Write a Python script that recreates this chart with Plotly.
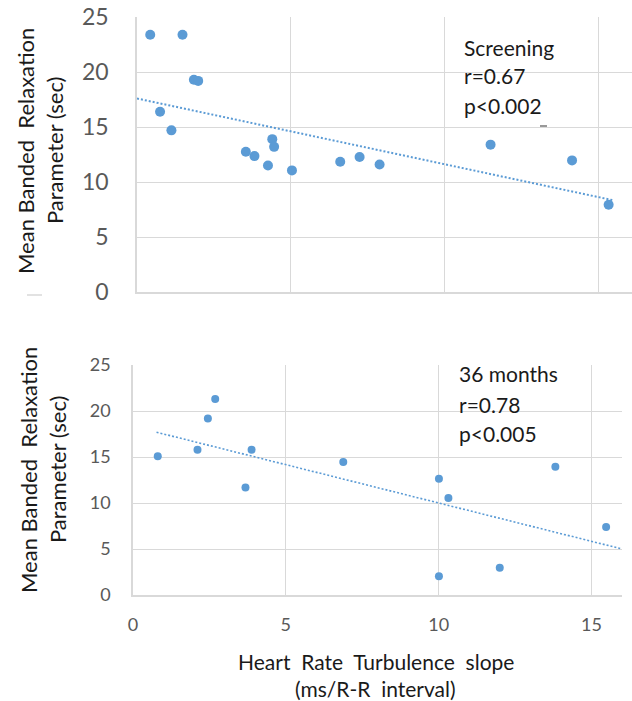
import plotly.graph_objects as go

# ---------------- data ----------------
screening_x = [0.43, 1.48, 1.85, 1.99, 0.75, 1.12, 3.54, 3.82, 4.40, 4.46, 4.26, 5.04,
               6.61, 7.24, 7.89, 11.5, 14.15, 15.34]
screening_y = [23.4, 23.4, 19.3, 19.2, 16.4, 14.7, 12.75, 12.36, 13.9, 13.2, 11.5, 11.06,
               11.85, 12.27, 11.6, 13.4, 11.97, 7.94]
screening_trend_x = [0.0, 15.46]
screening_trend_y = [17.6, 8.36]

m36_x = [0.81, 2.11, 2.45, 2.69, 3.88, 3.68, 6.88, 10.01, 10.32, 10.01, 12.0, 13.82, 15.48]
m36_y = [15.1, 15.8, 19.2, 21.3, 15.8, 11.7, 14.46, 12.64, 10.54, 2.03, 2.97, 13.95, 7.39]
m36_trend_x = [0.77, 15.97]
m36_trend_y = [17.7, 5.03]

y_ticks = [0, 5, 10, 15, 20, 25]
x_ticks = [0, 5, 10, 15]
top_label = ["Screening", "r=0.67", "p<0.002"]
bottom_label = ["36 months", "r=0.78", "p<0.005"]
y_title = ["Mean Banded\u00a0 Relaxation", "Parameter (sec)"]
x_title = ["Heart\u00a0 Rate\u00a0 Turbulence\u00a0 slope", "(ms/R-R\u00a0 interval)"]

# ---------------- figure ----------------
W, H = 632, 701
FONT = "Lato"
BLUE = "#5b9bd5"
GRID = "#d9d9d9"
TICK = "#595959"


def px(x):
    return x / W


def py(y):
    return 1 - y / H


fig = go.Figure()
fig.add_trace(go.Scatter(x=screening_x, y=screening_y, mode="markers",
                         marker=dict(color=BLUE, size=10), xaxis="x", yaxis="y",
                         showlegend=False))
fig.add_trace(go.Scatter(x=screening_trend_x, y=screening_trend_y, mode="lines",
                         line=dict(color=BLUE, width=2, dash="2px,2px"),
                         xaxis="x", yaxis="y", showlegend=False))
fig.add_trace(go.Scatter(x=m36_x, y=m36_y, mode="markers",
                         marker=dict(color=BLUE, size=8), xaxis="x2", yaxis="y2",
                         showlegend=False))
fig.add_trace(go.Scatter(x=m36_trend_x, y=m36_trend_y, mode="lines",
                         line=dict(color=BLUE, width=1.6, dash="2px,2px"),
                         xaxis="x2", yaxis="y2", showlegend=False))

axis_common = dict(showgrid=True, gridcolor=GRID, gridwidth=1, zeroline=False,
                   showline=True, linecolor=GRID, linewidth=1.5, ticks="",
                   automargin=False)

fig.update_layout(
    width=W, height=H,
    margin=dict(l=0, r=0, t=0, b=0, autoexpand=False),
    paper_bgcolor="white", plot_bgcolor="white",
    font=dict(family=FONT, color="#262626"),
    xaxis=dict(domain=[px(137), px(632)], range=[0, 16.1], tickvals=x_ticks,
               showticklabels=False, anchor="y", **axis_common),
    yaxis=dict(domain=[py(292), py(17)], range=[0, 25.01], tickvals=y_ticks,
               tickfont=dict(family=FONT, size=23, color=TICK), ticklabelstandoff=22,
               anchor="x", **axis_common),
    xaxis2=dict(domain=[px(133), px(622)], range=[0, 16], tickvals=x_ticks,
                tickfont=dict(family=FONT, size=18, color=TICK), ticklabelstandoff=13,
                anchor="y2", **axis_common),
    yaxis2=dict(domain=[py(595), py(365)], range=[0, 25.01], tickvals=y_ticks,
                tickfont=dict(family=FONT, size=18, color=TICK), ticklabelstandoff=17,
                anchor="x2", **axis_common),
)

# white boxes behind the text labels (they hide the gridlines)
fig.add_shape(type="rect", xref="paper", yref="paper", layer="between",
              x0=px(438), x1=px(632), y0=py(123), y1=py(20),
              fillcolor="white", line=dict(width=0))
fig.add_shape(type="rect", xref="paper", yref="paper", layer="between",
              x0=px(446), x1=px(632), y0=py(453), y1=py(367),
              fillcolor="white", line=dict(width=0))

# small artefacts in the reference
fig.add_shape(type="line", xref="paper", yref="paper", x0=px(27), x1=px(42),
              y0=py(295), y1=py(295), line=dict(color=GRID, width=1.5))
fig.add_shape(type="line", xref="paper", yref="paper", x0=px(540), x1=px(547),
              y0=py(126), y1=py(126), line=dict(color="#555555", width=1.2))

# label annotations
for text, yc in zip(top_label, [47, 76, 105]):
    fig.add_annotation(x=px(462), y=py(yc), xref="paper", yref="paper", text=text,
                       showarrow=False, xanchor="left", yanchor="middle",
                       font=dict(family=FONT, size=21, color="#1a1a1a"))
for text, yc in zip(bottom_label, [374, 404, 433]):
    fig.add_annotation(x=px(457), y=py(yc), xref="paper", yref="paper", text=text,
                       showarrow=False, xanchor="left", yanchor="middle",
                       font=dict(family=FONT, size=21, color="#1a1a1a"))

# y titles
for xc, yc in [(25, 151), (28, 470)]:
    for i, text in enumerate(y_title):
        fig.add_annotation(x=px(xc + 29 * i), y=py(yc), xref="paper", yref="paper",
                           text=text, showarrow=False, textangle=-90,
                           xanchor="center", yanchor="middle",
                           font=dict(family=FONT, size=22, color="#1a1a1a"))

# x title
for text, yc in zip(x_title, [661, 688]):
    fig.add_annotation(x=px(376), y=py(yc), xref="paper", yref="paper", text=text,
                       showarrow=False, xanchor="center", yanchor="middle",
                       font=dict(family=FONT, size=21, color="#1a1a1a"))

fig.write_html("out.html",
               config={"displayModeBar": False},
               post_script="document.body.style.margin='0';"
                           "document.body.style.padding='0';"
                           "document.body.style.overflow='hidden';")
